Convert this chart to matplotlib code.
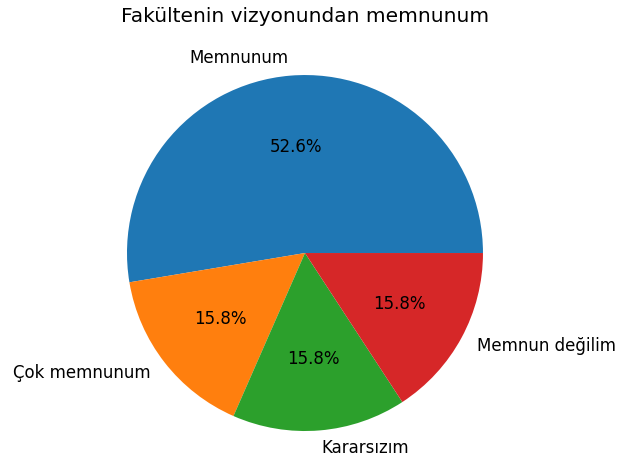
import matplotlib
matplotlib.use('Agg')
import matplotlib.pyplot as plt

labels = ['Memnunum', 'Çok memnunum', 'Kararsızım', 'Memnun değilim']
counts = [10, 3, 3, 3]

fig = plt.figure(figsize=(6.17, 4.59), dpi=100)
ax = fig.add_axes([0.1337, -0.036, 0.7212, 0.9695])

ax.pie(counts, labels=labels, autopct='%1.1f%%',
       textprops={'fontsize': 12})
ax.set_title('Fakültenin vizyonundan memnunum', fontsize=14.5)

plt.savefig('out.png', dpi=100)
